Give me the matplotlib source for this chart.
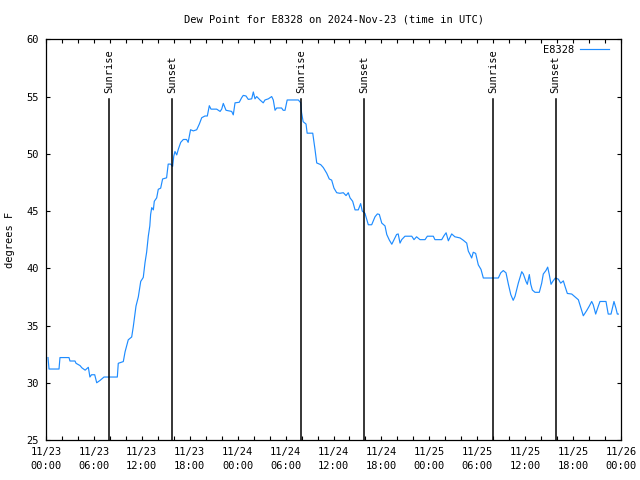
import numpy as np
import pandas as pd
import matplotlib
matplotlib.use("Agg")
import matplotlib.pyplot as plt
import matplotlib.dates as mdates


# =========================================================
# DATA (hours after 2024-11-23 00:00 UTC, dew point in F)
# =========================================================

hours = [
    0.25, 0.38, 1.63, 1.75, 2.88, 3.0, 3.63, 3.76, 4.26, 4.5, 4.9, 5.3,
    5.5, 5.7, 6.1, 6.35, 6.76, 7.26, 8.93, 9.05, 9.68, 9.9, 10.3, 10.73,
    10.93, 11.27, 11.56, 11.86, 12.18, 12.4, 12.6, 12.81, 13.0, 13.1,
    13.24, 13.44, 13.56, 13.86, 14.06, 14.36, 14.6, 15.1, 15.3, 15.6,
    15.86, 16.0, 16.15, 16.37, 16.57, 16.87, 17.2, 17.6, 17.8, 18.1,
    18.45, 18.87, 19.2, 19.5, 19.9, 20.2, 20.45, 20.66, 21.37, 21.8,
    22.0, 22.2, 22.54, 23.25, 23.45, 23.67, 24.2, 24.5, 24.7, 25.04,
    25.33, 25.76, 25.96, 26.17, 26.38, 26.8, 27.2, 27.42, 27.84, 28.26,
    28.46, 28.68, 28.89, 29.5, 29.7, 29.93, 30.2, 31.6, 31.9, 32.0,
    32.2, 32.56, 32.7, 33.4, 33.68, 33.9, 34.4, 34.72, 35.15, 35.47,
    35.77, 36.06, 36.4, 36.8, 37.23, 37.57, 37.85, 38.07, 38.4, 38.7,
    39.1, 39.4, 39.6, 39.94, 40.36, 40.78, 41.2, 41.5, 41.74, 42.04,
    42.45, 42.67, 43.0, 43.3, 43.58, 43.9, 44.1, 44.33, 44.54, 44.95,
    45.8, 46.08, 46.4, 46.83, 47.46, 47.75, 48.5, 48.7, 49.55, 49.84,
    50.1, 50.38, 50.8, 51.2, 51.84, 52.25, 52.68, 52.88, 53.1, 53.3,
    53.5, 53.8, 54.13, 54.47, 54.76, 56.64, 56.94, 57.26, 57.6, 57.9,
    58.2, 58.5, 58.73, 59.14, 59.57, 59.77, 60.1, 60.27, 60.52, 60.7,
    60.9, 61.23, 61.77, 62.07, 62.27, 62.6, 62.82, 63.02, 63.24, 63.45,
    63.78, 64.15, 64.45, 64.78, 65.0, 65.28, 65.83, 66.24, 66.66, 66.95,
    67.28, 67.7, 68.03, 68.33, 68.53, 68.83, 69.16, 69.37, 70.12, 70.4,
    70.75, 71.12, 71.37, 71.54, 71.67,
]

dew_point = [
    32.2, 31.2, 31.2, 32.2, 32.2, 31.9, 31.9, 31.7, 31.5, 31.3, 31.1, 31.35,
    30.5, 30.7, 30.7, 30.0, 30.2, 30.5, 30.5, 31.7, 31.85, 32.7, 33.75, 34.0,
    34.9, 36.7, 37.5, 38.85, 39.2, 40.5, 41.4, 42.8, 43.7, 44.7,
    45.3, 45.1, 45.85, 46.15, 46.9, 47.0, 47.8, 47.9, 49.1, 49.1,
    48.9, 49.8, 50.2, 49.9, 50.4, 51.0, 51.25, 51.25, 51.0, 52.1,
    52.0, 52.1, 52.6, 53.15, 53.3, 53.3, 54.2, 53.9, 53.9, 53.7,
    53.9, 54.4, 53.8, 53.7, 53.4, 54.45, 54.5, 54.9, 55.1, 55.05,
    54.75, 54.8, 55.4, 54.8, 55.0, 54.7, 54.45, 54.7, 54.8, 55.0,
    54.7, 53.8, 54.0, 54.0, 53.8, 53.8, 54.7, 54.7, 54.45, 53.6,
    52.8, 52.6, 51.8, 51.8, 50.4, 49.2, 49.05, 48.8, 48.3, 47.8,
    47.7, 47.0, 46.6, 46.55, 46.6, 46.35, 46.6, 46.15, 45.85, 45.1,
    45.1, 45.65, 45.0, 44.8, 43.8, 43.8, 44.5, 44.75, 44.7, 43.95,
    43.7, 42.95, 42.45, 42.1, 42.5, 42.95, 43.0, 42.2, 42.5, 42.8,
    42.8, 42.5, 42.75, 42.5, 42.5, 42.8, 42.8, 42.5, 42.5, 42.85,
    43.1, 42.4, 43.0, 42.75, 42.65, 42.45, 42.2, 41.5, 41.2, 40.9,
    41.4, 41.3, 40.3, 39.9, 39.15, 39.15, 39.6, 39.8, 39.6, 38.6,
    37.7, 37.2, 37.55, 38.7, 39.7, 39.5, 38.85, 38.6, 39.45, 38.6,
    38.1, 37.9, 37.9, 38.7, 39.5, 39.8, 40.1, 39.45, 38.6, 38.85,
    39.15, 39.05, 38.7, 38.9, 38.4, 37.8, 37.75, 37.5, 37.25, 36.6,
    35.85, 36.3, 36.7, 37.1, 36.8, 36.0, 36.7, 37.1, 37.1, 36.0,
    36.0, 37.1, 36.5, 36.0, 36.0,
]

sun_events = [
    ("2024-11-23 07:55", "Sunrise"),
    ("2024-11-23 15:48", "Sunset"),
    ("2024-11-24 07:56", "Sunrise"),
    ("2024-11-24 15:48", "Sunset"),
    ("2024-11-25 07:58", "Sunrise"),
    ("2024-11-25 15:49", "Sunset"),
]

start = pd.Timestamp("2024-11-23 00:00")
end = pd.Timestamp("2024-11-26 00:00")


# =========================================================
# PLOT
# =========================================================

plt.rcParams["font.family"] = "DejaVu Sans Mono"
plt.rcParams["font.size"] = 7

times = start + pd.to_timedelta(hours, unit="h")

fig = plt.figure(figsize=(6.4, 4.8), dpi=100)
ax = fig.add_axes([46 / 640, 40 / 480, 575 / 640, 400.7 / 480])

ax.plot(times, dew_point, color="#1E8CFF", lw=0.85, label="E8328")

# Sunrise / sunset markers
for when, name in sun_events:
    t = pd.Timestamp(when)
    ax.plot([t, t], [0, 0.85], color="black", lw=1.1,
            transform=ax.get_xaxis_transform())
    ax.text(t, 0.865, name, rotation=90, ha="center", va="bottom",
            transform=ax.get_xaxis_transform(), fontsize=7.5)

ax.set_xlim(start, end)
ax.set_ylim(25, 60)
ax.set_yticks(np.arange(25, 61, 5))

ax.xaxis.set_major_locator(mdates.HourLocator(byhour=range(0, 24, 6)))
ax.xaxis.set_minor_locator(mdates.HourLocator(byhour=range(0, 24, 2)))
ax.xaxis.set_major_formatter(mdates.DateFormatter("%m/%d\n%H:%M"))

ax.tick_params(which="both", direction="in", top=True, right=True,
               length=3, width=0.8, labelsize=7.5, pad=5)
for lbl in ax.get_xticklabels():
    lbl.set_linespacing(1.5)

for s in ax.spines.values():
    s.set_linewidth(0.9)

ax.legend(loc="upper right", bbox_to_anchor=(1 - 7 / 575, 1),
          frameon=False, markerfirst=False,
          handlelength=2.8, fontsize=7.5, borderaxespad=0.1,
          handletextpad=0.5)

fig.text(333.5 / 640, 1 - 19 / 480,
         "Dew Point for E8328 on 2024-Nov-23 (time in UTC)",
         ha="center", va="center", fontsize=7.5)
fig.text(10 / 640, 1 - 240 / 480, "degrees F", rotation=90,
         ha="center", va="center", fontsize=7.5)

fig.savefig("out.png", dpi=100)
